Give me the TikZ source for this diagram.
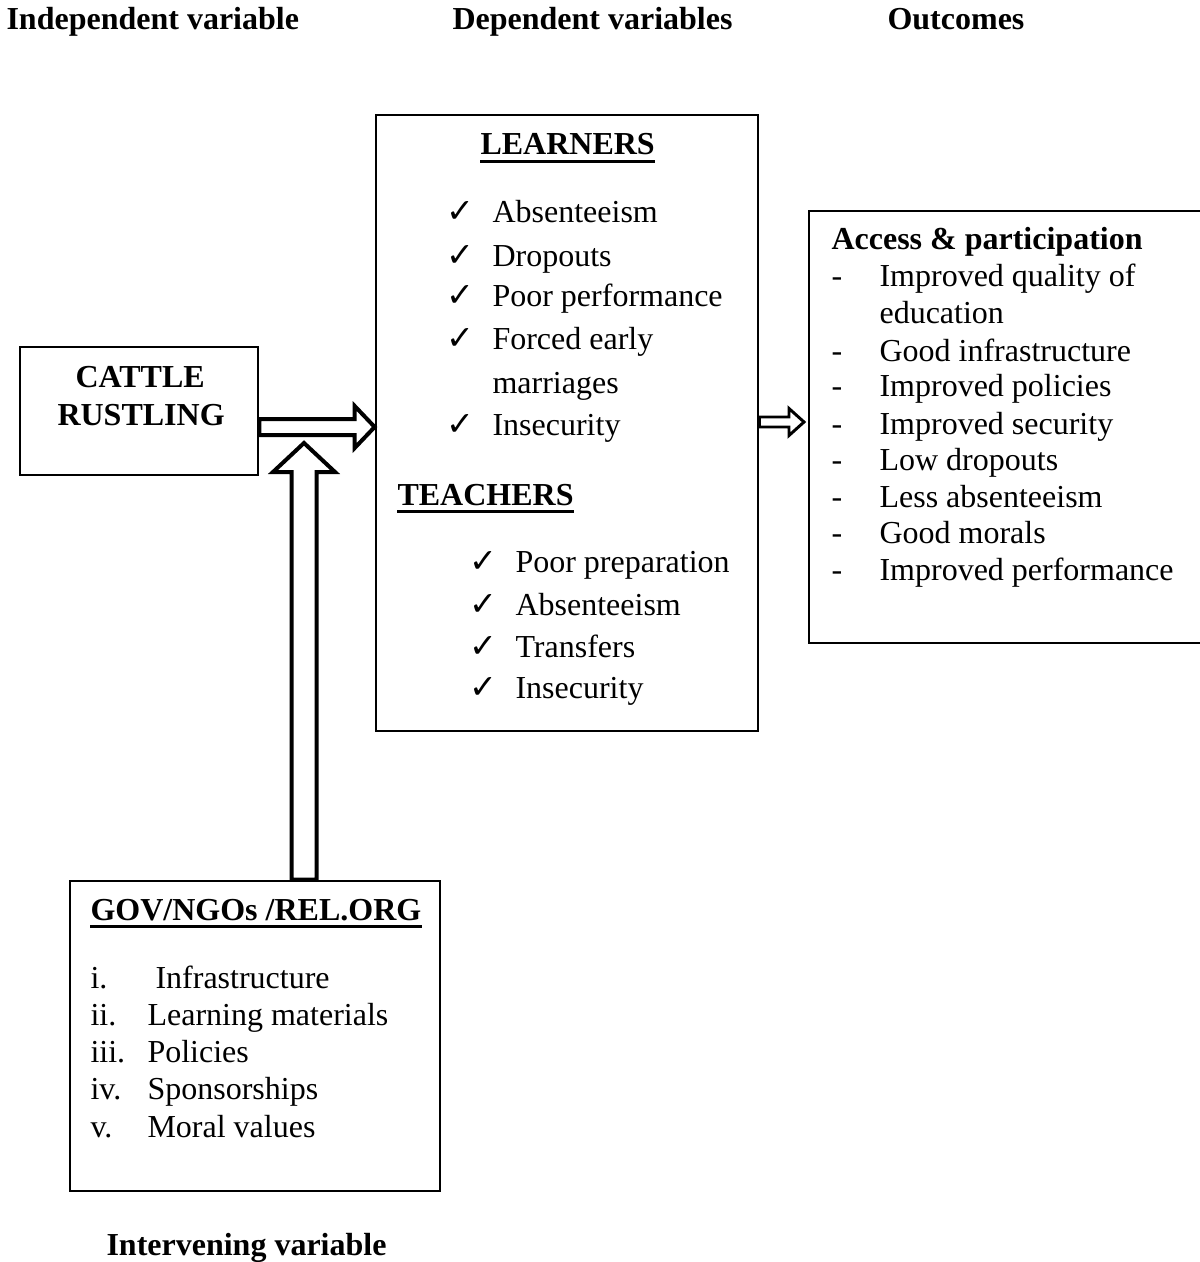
\documentclass[tikz,border=0pt]{standalone}
\usepackage{fontspec}
\setmainfont{Liberation Serif}
\newfontfamily\symfont{DejaVu Sans}
\usetikzlibrary{calc}
\tikzstyle{box}=[draw,line width=1pt,inner sep=0pt]
\tikzstyle{txt}=[anchor=base west,inner sep=0pt,font=\fontsize{12}{14}\selectfont]
\tikzstyle{head}=[txt,font=\fontsize{12}{14}\selectfont\bfseries]
\tikzstyle{tick}=[txt,font=\fontsize{12.5}{14}\symfont]
\tikzstyle{hollow}=[draw,line width=1.5pt,fill=white,line join=miter]

\begin{document}
\begin{tikzpicture}[x=0.375pt,y=-0.375pt]

    \useasboundingbox (0,0) rectangle (1199,1262);

    % headings
    \foreach \x/\y/\name/\txt in {6/30/hind/Independent variable, 452/30/hdep/Dependent variables, 887/30/hout/Outcomes, 106/1255/hint/Intervening variable}
        \node[head] (\name) at (\x,\y) {\txt};

    % boxes
    \node[box, minimum width=89.25pt, minimum height=48pt] (cattle) at (139,411) {};
    \node[box, minimum width=143.25pt, minimum height=231pt] (learn) at (567,423) {};
    \node[box, minimum width=147.75pt, minimum height=162pt] (outc) at (1006,427) {};
    \node[box, minimum width=138.75pt, minimum height=116.25pt] (gov) at (255,1036) {};

    \node[head] (cat1) at (75,387) {CATTLE};
    \node[head] (cat2) at (57,425) {RUSTLING};

    % learners
    \node[head] (lrn) at (480,155) {LEARNERS};
    \foreach \y/\name/\txt in {223/l1/Absenteeism, 266/l2/Dropouts, 307/l3/Poor performance, 350/l4/Forced early, 435/l6/Insecurity} {
        \node[tick] (t\name) at (446,\y) {✓};
        \node[txt] (\name) at (492,\y) {\txt};
    }
    \node[txt] (l5) at (492,393) {marriages};

    % teachers
    \node[head] (tch) at (397,505) {TEACHERS};
    \foreach \y/\name/\txt in {572/m1/Poor preparation, 615/m2/Absenteeism, 657/m3/Transfers, 698/m4/Insecurity} {
        \node[tick] (t\name) at (469,\y) {✓};
        \node[txt] (\name) at (515,\y) {\txt};
    }

    % outcomes
    \node[head] (acc) at (831,250) {Access \& participation};
    \foreach \y/\name/\txt in {286/o1/Improved quality of, 361/o3/Good infrastructure, 396/o4/Improved policies, 434/o5/Improved security, 470/o6/Low dropouts, 507/o7/Less absenteeism, 543/o8/Good morals, 580/o9/Improved performance} {
        \node[txt] (d\name) at (831,\y) {-};
        \node[txt] (\name) at (879,\y) {\txt};
    }
    \node[txt] (o2) at (879,323) {education};

    % intervening
    \node[head] (govt) at (90,920) {GOV/NGOs /REL.ORG};
    \foreach \y/\name/\num/\x/\txt in {988/g1/i./155/Infrastructure, 1025/g2/ii./147/Learning materials, 1062/g3/iii./147/Policies, 1099/g4/iv./147/Sponsorships, 1137/g5/v./147/Moral values} {
        \node[txt] (n\name) at (90,\y) {\num};
        \node[txt] (\name) at (\x,\y) {\txt};
    }

    \foreach \name in {lrn, tch, govt}
        \draw[line width=1pt] ([yshift=-2.5pt]\name.base west) -- ([yshift=-2.5pt]\name.base east);

    % arrows
    \coordinate (hy) at (0,427);
    \coordinate (hs) at (cattle.east |- hy);
    \coordinate (ht) at (learn.west |- hy);
    \draw[hollow] ($(hs)+(0,-8)$) -- ($(ht)+(-20,-8)$) -- ($(ht)+(-20,-21)$) -- (ht)
        -- ($(ht)+(-20,21)$) -- ($(ht)+(-20,8)$) -- ($(hs)+(0,8)$) -- cycle;

    \coordinate (vx) at (304,0);
    \coordinate (vs) at (vx |- gov.north);
    \coordinate (vt) at (304,443);
    \draw[hollow] ($(vs)+(-12.5,0)$) -- ($(vt)+(-12.5,29)$) -- ($(vt)+(-31,29)$) -- (vt)
        -- ($(vt)+(31,29)$) -- ($(vt)+(12.5,29)$) -- ($(vs)+(12.5,0)$) -- cycle;

    \coordinate (sy) at (0,422);
    \coordinate (ss) at (learn.east |- sy);
    \coordinate (st) at (804,422);
    \draw[hollow, line width=1.1pt] ($(ss)+(0,-5)$) -- ($(st)+(-15,-5)$) -- ($(st)+(-15,-13.5)$) -- (st)
        -- ($(st)+(-15,13.5)$) -- ($(st)+(-15,5)$) -- ($(ss)+(0,5)$) -- cycle;

\end{tikzpicture}
\end{document}
